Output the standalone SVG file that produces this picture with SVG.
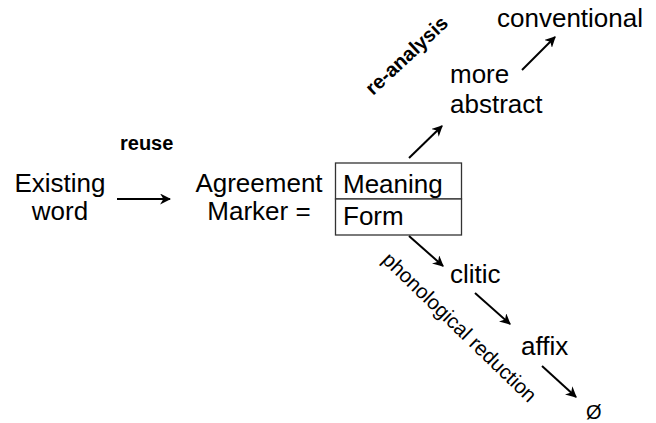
<svg xmlns="http://www.w3.org/2000/svg" width="656" height="423" viewBox="0 0 656 423">
<style>
text{font-family:"Liberation Sans",Arial,sans-serif;fill:#000}
.t{font-size:26px}
.b{font-weight:bold;font-size:20px}
.s{font-size:20.5px}
.c line{stroke:#000;stroke-width:2;marker-end:url(#ah)}
.box{fill:#fff;stroke:#333;stroke-width:1.3}
</style>
<defs>
<marker id="ah" viewBox="0 0 10 10" refX="9" refY="5" markerWidth="5.5" markerHeight="5.5" orient="auto" markerUnits="strokeWidth">
<path d="M0,0 L10,5 L0,10 L3,5 z" fill="#000"/>
</marker>
</defs>
<rect width="656" height="423" fill="#fff"/>
<g id="existing"><text class="t" x="60" y="192" text-anchor="middle">Existing</text><text class="t" x="60" y="220" text-anchor="middle">word</text></g>
<g id="agreement"><text class="t" x="259" y="192" text-anchor="middle">Agreement</text><text class="t" x="259" y="220" text-anchor="middle">Marker =</text></g>
<g id="meaning"><rect class="box" x="335.5" y="163" width="126" height="36"/><text class="t" x="343" y="193">Meaning</text></g>
<g id="form"><rect class="box" x="335.5" y="199" width="126" height="36"/><text class="t" x="343" y="225">Form</text></g>
<g id="abstract"><text class="t" x="450" y="83">more</text><text class="t" x="450" y="113">abstract</text></g>
<g id="conventional"><text class="t" x="497" y="27">conventional</text></g>
<g id="clitic"><text class="t" x="450" y="283">clitic</text></g>
<g id="affix"><text class="t" x="521" y="355">affix</text></g>
<g id="zero"><text style="font-size:20px" x="586" y="419">Ø</text></g>
<g id="labels">
<text class="b" x="120" y="150">reuse</text>
<text class="b" transform="translate(373,96) rotate(-43)">re-analysis</text>
<text class="s" transform="translate(381,261) rotate(44)">phonological reduction</text>
</g>
<g class="c" id="connectors">
<line x1="117" y1="199" x2="170" y2="199"/>
<line x1="409" y1="158" x2="442" y2="126"/>
<line x1="522" y1="70" x2="555" y2="37"/>
<line x1="409" y1="236" x2="443" y2="266"/>
<line x1="475" y1="293" x2="510" y2="324"/>
<line x1="542" y1="366" x2="576" y2="397"/>
</g>
</svg>
